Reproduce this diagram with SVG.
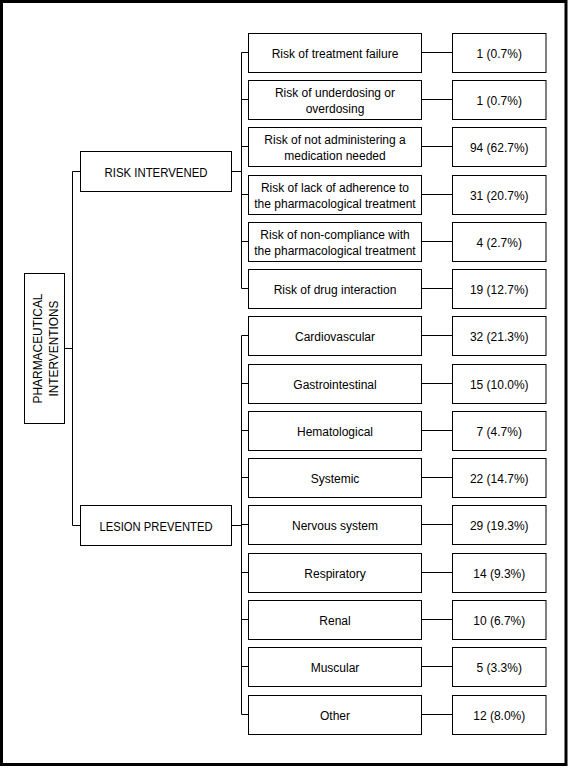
<svg xmlns="http://www.w3.org/2000/svg" width="571" height="769" viewBox="0 0 571 769">
<style>
.box{fill:#fff;stroke:#000;stroke-width:1}
.t{font-family:"Liberation Sans",Arial,sans-serif;font-size:12px;fill:#000;text-anchor:middle}
.cap{font-family:"Liberation Sans",Arial,sans-serif;font-size:13px;fill:#000;text-anchor:middle}
.ln{stroke:#000;stroke-width:1;fill:none}
</style>
<rect x="0" y="0" width="571" height="769" fill="#fff"/>
<rect x="1.5" y="1.5" width="564.5" height="763" fill="none" stroke="#000" stroke-width="3"/>
<g id="connectors" class="ln">
<path d="M64.5 348.5H72.5M72.5 171.5V525.5M72.5 171.5H80.5M72.5 525.5H80.5"/>
<path d="M231.5 171.5H241.5M241.5 52.5V288.5"/>
<path d="M241.5 52.5H248.5M241.5 99.5H248.5M241.5 146.5H248.5M241.5 194.5H248.5M241.5 241.5H248.5M241.5 288.5H248.5"/>
<path d="M231.5 525.5H241.5M241.5 335.5V714.5"/>
<path d="M241.5 335.5H248.5M241.5 383.5H248.5M241.5 430.5H248.5M241.5 477.5H248.5M241.5 524.5H248.5M241.5 572.5H248.5M241.5 619.5H248.5M241.5 666.5H248.5M241.5 714.5H248.5"/>
<path d="M421.5 52.5H452.5M421.5 99.5H452.5M421.5 146.5H452.5M421.5 194.5H452.5M421.5 241.5H452.5M421.5 288.5H452.5M421.5 335.5H452.5M421.5 383.5H452.5M421.5 430.5H452.5M421.5 477.5H452.5M421.5 524.5H452.5M421.5 572.5H452.5M421.5 619.5H452.5M421.5 666.5H452.5M421.5 714.5H452.5"/>
</g>
<g id="root">
<rect class="box" x="24.5" y="273.5" width="40" height="150"/>
<text class="cap" transform="translate(44.5 348.5) rotate(-90)" x="0" y="-3" textLength="110" lengthAdjust="spacingAndGlyphs">PHARMACEUTICAL</text>
<text class="cap" transform="translate(44.5 348.5) rotate(-90)" x="0" y="13" textLength="96" lengthAdjust="spacingAndGlyphs">INTERVENTIONS</text>
</g>
<g id="risk-intervened">
<rect class="box" x="80.5" y="151.5" width="151" height="40"/>
<text class="cap" x="156" y="176.5" textLength="103" lengthAdjust="spacingAndGlyphs">RISK INTERVENED</text>
</g>
<g id="lesion-prevented">
<rect class="box" x="80.5" y="505.5" width="151" height="40"/>
<text class="cap" x="156" y="530.5" textLength="113" lengthAdjust="spacingAndGlyphs">LESION PREVENTED</text>
</g>
<g id="r1"><rect class="box" x="248.5" y="33.5" width="173" height="39"/><text class="t" x="335" y="57.5">Risk of treatment failure</text></g>
<g id="v1"><rect class="box" x="452.5" y="33.5" width="93.5" height="39"/><text class="t" x="499.25" y="57.5">1 (0.7%)</text></g>
<g id="r2"><rect class="box" x="248.5" y="80.5" width="173" height="39"/><text class="t" x="335" y="96.5">Risk of underdosing or</text><text class="t" x="335" y="112.5">overdosing</text></g>
<g id="v2"><rect class="box" x="452.5" y="80.5" width="93.5" height="39"/><text class="t" x="499.25" y="104.5">1 (0.7%)</text></g>
<g id="r3"><rect class="box" x="248.5" y="127.5" width="173" height="39"/><text class="t" x="335" y="143.5">Risk of not administering a</text><text class="t" x="335" y="159.5">medication needed</text></g>
<g id="v3"><rect class="box" x="452.5" y="127.5" width="93.5" height="39"/><text class="t" x="499.25" y="151.5">94 (62.7%)</text></g>
<g id="r4"><rect class="box" x="248.5" y="175.5" width="173" height="39"/><text class="t" x="335" y="191.5">Risk of lack of adherence to</text><text class="t" x="335" y="207.5">the pharmacological treatment</text></g>
<g id="v4"><rect class="box" x="452.5" y="175.5" width="93.5" height="39"/><text class="t" x="499.25" y="199.5">31 (20.7%)</text></g>
<g id="r5"><rect class="box" x="248.5" y="222.5" width="173" height="39"/><text class="t" x="335" y="238.5">Risk of non-compliance with</text><text class="t" x="335" y="254.5">the pharmacological treatment</text></g>
<g id="v5"><rect class="box" x="452.5" y="222.5" width="93.5" height="39"/><text class="t" x="499.25" y="246.5">4 (2.7%)</text></g>
<g id="r6"><rect class="box" x="248.5" y="269.5" width="173" height="39"/><text class="t" x="335" y="293.5">Risk of drug interaction</text></g>
<g id="v6"><rect class="box" x="452.5" y="269.5" width="93.5" height="39"/><text class="t" x="499.25" y="293.5">19 (12.7%)</text></g>
<g id="r7"><rect class="box" x="248.5" y="316.5" width="173" height="39"/><text class="t" x="335" y="340.5">Cardiovascular</text></g>
<g id="v7"><rect class="box" x="452.5" y="316.5" width="93.5" height="39"/><text class="t" x="499.25" y="340.5">32 (21.3%)</text></g>
<g id="r8"><rect class="box" x="248.5" y="364.5" width="173" height="39"/><text class="t" x="335" y="388.5">Gastrointestinal</text></g>
<g id="v8"><rect class="box" x="452.5" y="364.5" width="93.5" height="39"/><text class="t" x="499.25" y="388.5">15 (10.0%)</text></g>
<g id="r9"><rect class="box" x="248.5" y="411.5" width="173" height="39"/><text class="t" x="335" y="435.5">Hematological</text></g>
<g id="v9"><rect class="box" x="452.5" y="411.5" width="93.5" height="39"/><text class="t" x="499.25" y="435.5">7 (4.7%)</text></g>
<g id="r10"><rect class="box" x="248.5" y="458.5" width="173" height="39"/><text class="t" x="335" y="482.5">Systemic</text></g>
<g id="v10"><rect class="box" x="452.5" y="458.5" width="93.5" height="39"/><text class="t" x="499.25" y="482.5">22 (14.7%)</text></g>
<g id="r11"><rect class="box" x="248.5" y="505.5" width="173" height="39"/><text class="t" x="335" y="529.5">Nervous system</text></g>
<g id="v11"><rect class="box" x="452.5" y="505.5" width="93.5" height="39"/><text class="t" x="499.25" y="529.5">29 (19.3%)</text></g>
<g id="r12"><rect class="box" x="248.5" y="553.5" width="173" height="39"/><text class="t" x="335" y="577.5">Respiratory</text></g>
<g id="v12"><rect class="box" x="452.5" y="553.5" width="93.5" height="39"/><text class="t" x="499.25" y="577.5">14 (9.3%)</text></g>
<g id="r13"><rect class="box" x="248.5" y="600.5" width="173" height="39"/><text class="t" x="335" y="624.5">Renal</text></g>
<g id="v13"><rect class="box" x="452.5" y="600.5" width="93.5" height="39"/><text class="t" x="499.25" y="624.5">10 (6.7%)</text></g>
<g id="r14"><rect class="box" x="248.5" y="647.5" width="173" height="39"/><text class="t" x="335" y="671.5">Muscular</text></g>
<g id="v14"><rect class="box" x="452.5" y="647.5" width="93.5" height="39"/><text class="t" x="499.25" y="671.5">5 (3.3%)</text></g>
<g id="r15"><rect class="box" x="248.5" y="695.5" width="173" height="39"/><text class="t" x="335" y="719.5">Other</text></g>
<g id="v15"><rect class="box" x="452.5" y="695.5" width="93.5" height="39"/><text class="t" x="499.25" y="719.5">12 (8.0%)</text></g>
</svg>
